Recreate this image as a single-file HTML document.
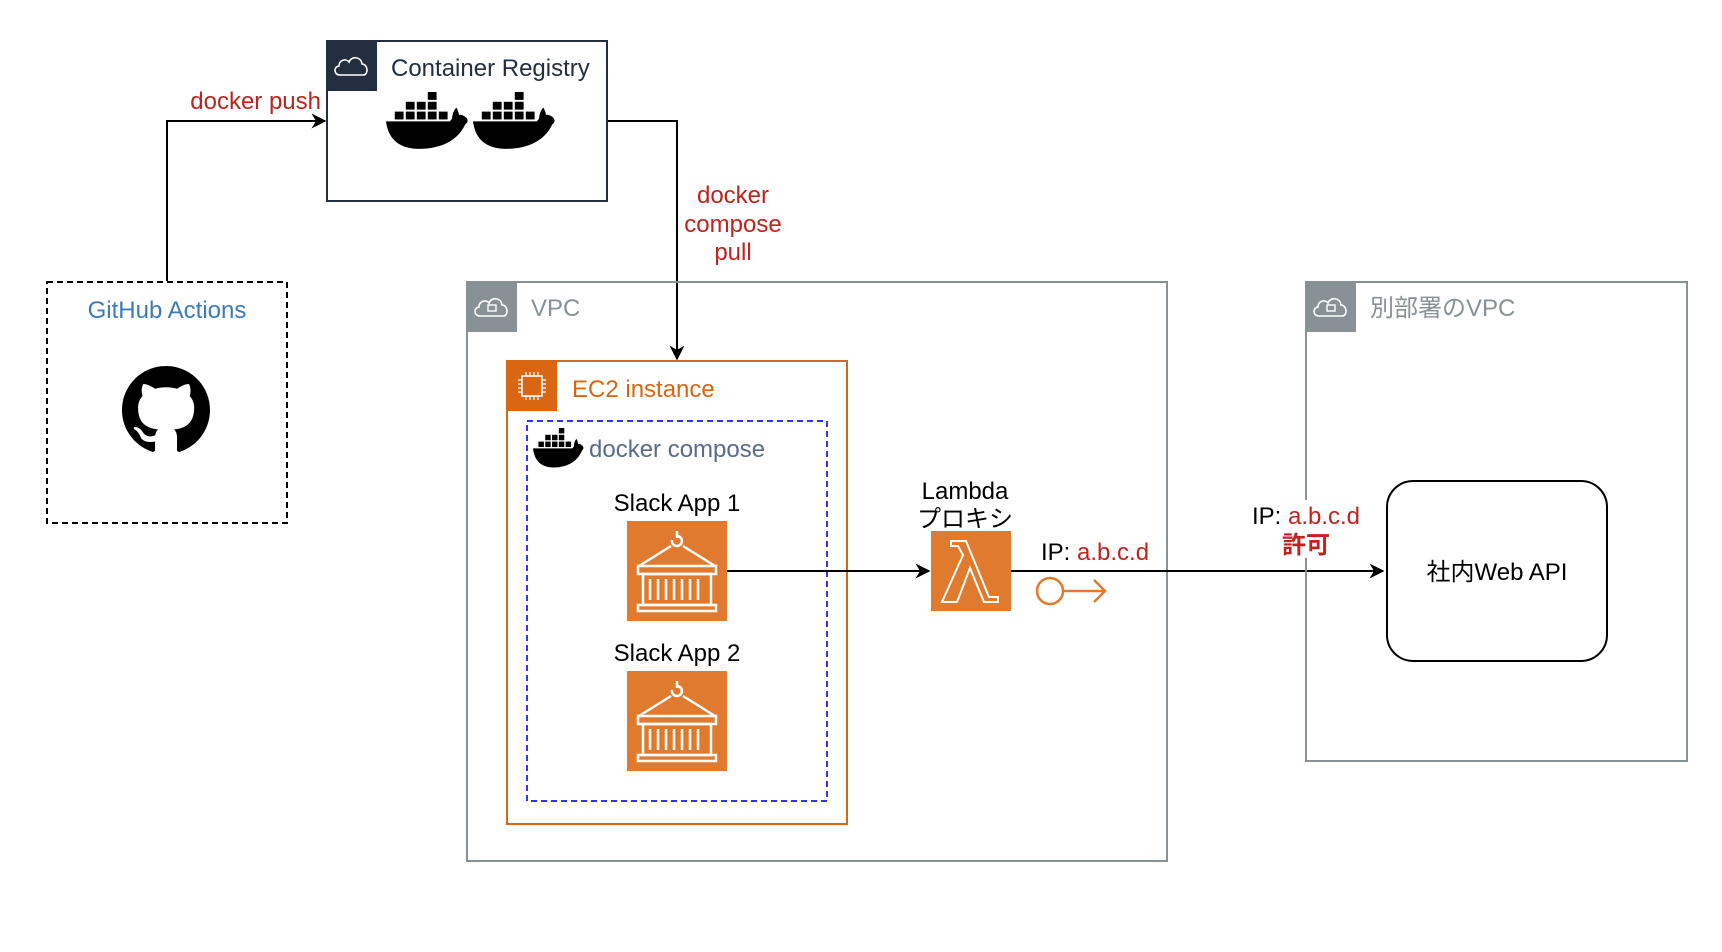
<!DOCTYPE html>
<html><head><meta charset="utf-8"><style>
html,body{margin:0;padding:0;background:#fff;}
svg{display:block;font-family:"Liberation Sans","Noto Sans CJK JP",sans-serif;}
</style></head><body>
<svg width="1722" height="952" viewBox="0 0 1722 952" xmlns="http://www.w3.org/2000/svg">
<defs>
<marker id="ah" viewBox="0 0 10 10" refX="9" refY="5" markerWidth="15" markerHeight="15" markerUnits="userSpaceOnUse" orient="auto">
<path d="M0,0 L10,5 L0,10 L3,5 Z" fill="#000"/></marker>
<g id="whale">
<path d="M0,30 L58,30 C62,24 66,22 70,24 C74,26 76,30 72,33 C66,48 52,58 30,58 C12,58 2,48 0,30 Z" fill="#000"/>
<path d="M60,29 C60,22 62,18 64,16 C66,20 67,24 66,28 Z" fill="#000"/>
<g fill="#000">
<rect x="8" y="20" width="8" height="8"/><rect x="18" y="20" width="8" height="8"/><rect x="28" y="20" width="8" height="8"/><rect x="38" y="20" width="8" height="8"/><rect x="48" y="20" width="8" height="8"/>
<rect x="18" y="10" width="8" height="8"/><rect x="28" y="10" width="8" height="8"/><rect x="38" y="10" width="8" height="8"/>
<rect x="38" y="0" width="8" height="8"/>
</g>
</g>
<g id="cloud">
<path d="M-12,8 C-18,8 -19,0 -13,-1 C-13,-7 -6,-9 -3,-5 C-1,-11 9,-11 10,-3 C16,-3 17,8 11,8 Z" fill="none" stroke="#fff" stroke-width="1.6"/>
</g>
<g id="container">
<rect x="0" y="0" width="100" height="100" fill="#e07a2e"/>
<g fill="none" stroke="#fff" stroke-width="2.5">
<path d="M50,10 L50,17 M45,19 A5,5 0 1 0 50,15"/>
<path d="M44,25 L12,45 M56,25 L88,45"/>
<rect x="11" y="45" width="78" height="8"/>
<rect x="16" y="53" width="68" height="31"/>
<rect x="11" y="84" width="78" height="6"/>
<path d="M23,58v21 M31,58v21 M39,58v21 M47,58v21 M55,58v21 M63,58v21 M71,58v21"/>
</g>
</g>
</defs>

<polyline points="167,281 167,121 325,121" fill="none" stroke="#000" stroke-width="2" marker-end="url(#ah)"/>
<polyline points="607,121 677,121 677,359" fill="none" stroke="#000" stroke-width="2" marker-end="url(#ah)"/>

<rect x="327" y="41" width="280" height="160" fill="none" stroke="#232f3e" stroke-width="2"/>
<rect x="327" y="41" width="50" height="50" fill="#232f3e"/>
<use href="#cloud" x="352" y="67"/>
<text x="391" y="76" font-size="24" fill="#232f3e">Container Registry</text>
<use href="#whale" transform="translate(386,92) scale(1.1,0.98)"/>
<use href="#whale" transform="translate(473,92) scale(1.1,0.98)"/>

<text x="321" y="109" font-size="24" fill="#c0231e" text-anchor="end">docker push</text>
<g font-size="24" fill="#c0231e" text-anchor="middle">
<text x="733" y="203">docker</text><text x="733" y="232">compose</text><text x="733" y="260">pull</text>
</g>

<rect x="47" y="282" width="240" height="241" fill="none" stroke="#000" stroke-width="2" stroke-dasharray="6,4"/>
<text x="167" y="318" font-size="24" fill="#3d7ab8" text-anchor="middle">GitHub Actions</text>
<path transform="translate(122,366) scale(5.5)" fill="#000" d="M8 0C3.58 0 0 3.58 0 8c0 3.54 2.29 6.53 5.47 7.590.4.07.55-.17.55-.38 0-.19-.01-.82-.01-1.49-2.01.37-2.53-.49-2.69-.94-.09-.23-.48-.94-.82-1.13-.28-.15-.68-.52-.01-.53.63-.01 1.08.58 1.23.82.72 1.21 1.87.87 2.33.66.07-.52.28-.87.51-1.07-1.78-.2-3.64-.89-3.64-3.95 0-.87.31-1.59.82-2.15-.08-.2-.36-1.02.08-2.12 0 0 .67-.21 2.2.82.64-.18 1.32-.27 2-.27.68 0 1.36.09 2 .27 1.53-1.04 2.2-.82 2.2-.82.44 1.1.16 1.92.08 2.12.51.56.82 1.27.82 2.15 0 3.07-1.87 3.75-3.65 3.95.29.25.54.73.54 1.48 0 1.07-.01 1.93-.01 2.2 0 .21.15.46.55.38A8.013 8.013 0 0016 8c0-4.42-3.58-8-8-8z"/>

<rect x="467" y="282" width="700" height="579" fill="none" stroke="#879196" stroke-width="2"/>
<rect x="467" y="282" width="50" height="50" fill="#879196"/>
<use href="#cloud" x="492" y="308"/>
<rect x="488" y="305" width="8" height="6" fill="none" stroke="#fff" stroke-width="1.4"/>
<text x="531" y="316" font-size="24" fill="#879196">VPC</text>

<rect x="507" y="361" width="340" height="463" fill="none" stroke="#d86613" stroke-width="2"/>
<rect x="507" y="361" width="50" height="50" fill="#d86613"/>
<rect x="522" y="376" width="20" height="20" fill="none" stroke="#fff" stroke-width="1.6"/>
<path d="M526,372v4M530,372v4M534,372v4M538,372v4M526,396v4M530,396v4M534,396v4M538,396v4M518,380h4M518,384h4M518,388h4M518,392h4M542,380h4M542,384h4M542,388h4M542,392h4" stroke="#fff" stroke-width="1.2"/>
<text x="572" y="397" font-size="24" fill="#d86613">EC2 instance</text>

<rect x="527" y="421" width="300" height="380" fill="none" stroke="#3333ff" stroke-width="2" stroke-dasharray="6,4"/>
<use href="#whale" transform="translate(533,428) scale(0.68,0.68)"/>
<text x="589" y="457" font-size="24" fill="#5a6b86">docker compose</text>

<text x="677" y="511" font-size="24" fill="#000" text-anchor="middle">Slack App 1</text>
<use href="#container" x="627" y="521"/>
<text x="677" y="661" font-size="24" fill="#000" text-anchor="middle">Slack App 2</text>
<use href="#container" x="627" y="671"/>

<line x1="727" y1="571" x2="929" y2="571" stroke="#000" stroke-width="2" marker-end="url(#ah)"/>

<text x="965" y="499" font-size="24" fill="#000" text-anchor="middle">Lambda</text>
<text x="965" y="527" font-size="24" fill="#000" text-anchor="middle">プロキシ</text>
<rect x="931" y="531" width="80" height="80" fill="#e07a2e"/>
<path d="M951,541 L966,541 L989,597 L998,597 L998,602 L984,602 L970,568 L957,602 L942,602 L963,555 L958,546 L951,546 Z" fill="none" stroke="#fff" stroke-width="2"/>

<line x1="1011" y1="571" x2="1383" y2="571" stroke="#000" stroke-width="2" marker-end="url(#ah)"/>
<text x="1041" y="560" font-size="24" fill="#000">IP: <tspan fill="#c0231e">a.b.c.d</tspan></text>
<g fill="none" stroke="#e07a2e" stroke-width="2.5">
<circle cx="1050" cy="591" r="13"/>
<path d="M1063,591 H1104 M1094,580 L1105,591 L1094,602"/>
</g>

<rect x="1306" y="282" width="381" height="479" fill="none" stroke="#879196" stroke-width="2"/>
<rect x="1306" y="282" width="50" height="50" fill="#879196"/>
<use href="#cloud" x="1331" y="308"/>
<rect x="1327" y="305" width="8" height="6" fill="none" stroke="#fff" stroke-width="1.4"/>
<text x="1370" y="316" font-size="24" fill="#879196">別部署のVPC</text>

<rect x="1250" y="500" width="114" height="58" fill="#fff"/>
<text x="1306" y="524" font-size="24" fill="#000" text-anchor="middle">IP: <tspan fill="#c0231e">a.b.c.d</tspan></text>
<text x="1306" y="553" font-size="24" font-weight="bold" fill="#c0231e" text-anchor="middle">許可</text>

<rect x="1387" y="481" width="220" height="180" rx="26" fill="#fff" stroke="#000" stroke-width="2"/>
<text x="1497" y="580" font-size="24" fill="#000" text-anchor="middle">社内Web API</text>
</svg>
</body></html>
